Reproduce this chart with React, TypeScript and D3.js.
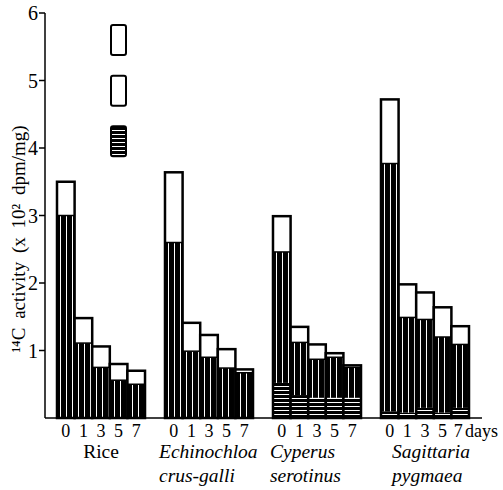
import React from 'react';
import * as d3 from 'd3';

const species = ['Rice', 'Echinochloa', 'Cyperus', 'Sagittaria'];
const nameLine1 = ['Rice', 'Echinochloa', 'Cyperus', 'Sagittaria'];
const nameLine2 = ['', 'crus-galli', 'serotinus', 'pygmaea'];
const days = ['0', '1', '3', '5', '7'];
const yTicks = [1, 2, 3, 4, 5, 6];

// total height of each bar (white top)
const totals = [
  [3.5, 1.48, 1.06, 0.8, 0.7],
  [3.64, 1.41, 1.23, 1.02, 0.72],
  [2.99, 1.35, 1.09, 0.96, 0.78],
  [4.72, 1.98, 1.86, 1.64, 1.36],
];
// top of the vertically striped part
const striped = [
  [3.0, 1.11, 0.75, 0.56, 0.5],
  [2.6, 0.99, 0.9, 0.74, 0.67],
  [2.46, 1.12, 0.87, 0.9, 0.75],
  [3.77, 1.49, 1.46, 1.2, 1.09],
];
// top of the horizontally striped bottom part
const bottom = [
  [0, 0, 0, 0, 0],
  [0, 0, 0, 0, 0],
  [0.52, 0.34, 0.3, 0.3, 0.3],
  [0.1, 0.08, 0.15, 0.08, 0.15],
];

// legend box centres (in data units) and fills
const legendAt = [5.6, 4.85, 4.1];
const legendFill = ['#fff', '#fff', 'url(#hstripe)'];

// label nudges relative to each group's first bar
const labelShift = [0, -6, -3, 11];

const FONT = 'Liberation Serif';

export default function App() {
  const y = d3.scaleLinear().domain([0, 6]).range([418, 13]);
  const xg = d3.scaleBand().domain(species).range([57, 469]).paddingInner(0.185).paddingOuter(0);
  const xd = d3.scaleBand().domain(days).range([0, xg.bandwidth()]).padding(0);
  const w = xd.bandwidth();
  const txt = { fontFamily: FONT };

  return (
    <svg width={503} height={490} style={{ position: 'absolute', left: 0, top: 0, background: '#fff' }}>
      <style>{`text { font-family: 'Liberation Serif', 'Times New Roman', serif; }`}</style>
      <defs>
        <pattern id="vstripe" patternUnits="userSpaceOnUse" width={6} height={10}>
          <rect width={6} height={10} fill="#000" />
          <rect x={3} width={1} height={10} fill="#fff" />
        </pattern>
        <pattern id="hstripe" patternUnits="userSpaceOnUse" width={10} height={4}>
          <rect width={10} height={4} fill="#000" />
          <rect y={2} width={10} height={1} fill="#fff" />
        </pattern>
      </defs>

      {/* y axis */}
      <line x1={45} x2={45} y1={y(0)} y2={y(6)} stroke="#000" strokeWidth={1.5} />
      {yTicks.map((t) => (
        <g key={t} transform={`translate(45,${y(t)})`}>
          <line x1={-6} x2={0} stroke="#000" strokeWidth={1.5} />
          <text x={-7} dy="0.35em" textAnchor="end" fontSize={20} style={txt}>{String(t)}</text>
        </g>
      ))}
      <line x1={45} x2={482} y1={y(0)} y2={y(0)} stroke="#000" strokeWidth={1.5} />

      {/* bars */}
      {species.map((s, i) => (
        <g key={s} transform={`translate(${xg(s)},0)`}>
          {days.map((d, j) => {
            const x0 = xd(d) as number;
            return (
              <g key={d}>
                {bottom[i][j] > 0 && (
                  <rect x={x0} width={w} y={y(bottom[i][j])} height={y(0) - y(bottom[i][j])} fill="url(#hstripe)" />
                )}
                <rect x={x0} width={w} y={y(striped[i][j])} height={y(bottom[i][j]) - y(striped[i][j])} fill="url(#vstripe)" />
                <rect x={x0} width={w} y={y(totals[i][j])} height={y(striped[i][j]) - y(totals[i][j])} fill="#fff" />
                <line x1={x0} x2={x0 + w} y1={y(striped[i][j])} y2={y(striped[i][j])} stroke="#000" strokeWidth={1.5} />
                <rect x={x0} width={w} y={y(totals[i][j])} height={y(0) - y(totals[i][j])}
                  fill="none" stroke="#000" strokeWidth={2.5} />
                <text x={x0 + w / 2 - (i === 3 && j === 4 ? 2 : 0)} y={437} textAnchor="middle" fontSize={18} style={txt}>{d}</text>
              </g>
            );
          })}
          {i === 0 ? (
            <text x={xg.bandwidth() / 2} y={458} textAnchor="middle" fontSize={19.5} style={txt}>{nameLine1[i]}</text>
          ) : (
            <text x={labelShift[i]} y={458} fontSize={19.5} fontStyle="italic" style={txt}>{nameLine1[i]}</text>
          )}
          {nameLine2[i] && (
            <text x={labelShift[i]} y={482} fontSize={19.5} fontStyle="italic" style={txt}>{nameLine2[i]}</text>
          )}
        </g>
      ))}

      <text x={465} y={437} fontSize={18} style={txt}>days</text>

      {/* legend boxes */}
      {legendAt.map((v, k) => (
        <rect key={k} x={111} width={15} y={y(v) - 15} height={30} rx={2}
          fill={legendFill[k]} stroke="#000" strokeWidth={2} />
      ))}

      {/* y title */}
      <text transform="translate(25,239) rotate(-90)" textAnchor="middle" fontSize={19} wordSpacing={4} style={txt}>
        {'\u00B9\u2074C activity (x 10\u00B2 dpm/mg)'}
      </text>
    </svg>
  );
}
